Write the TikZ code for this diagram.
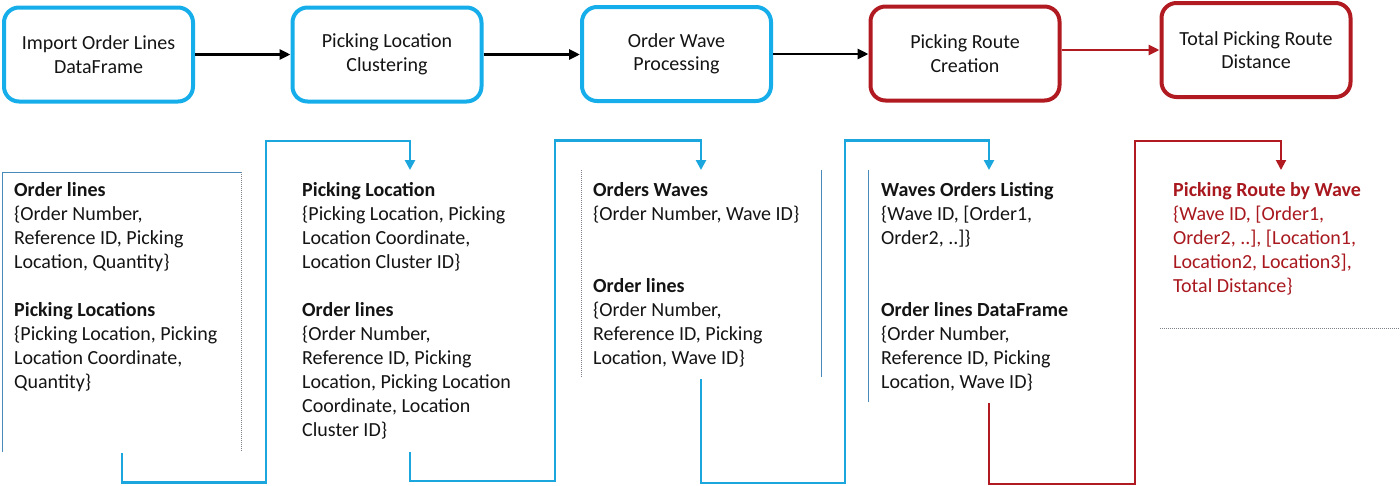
\documentclass[tikz,border=0pt]{standalone}
\usepackage{fontspec}
\setmainfont{Carlito}
\usetikzlibrary{arrows.meta}
\definecolor{boxblue}{RGB}{22,174,234}
\definecolor{connblue}{RGB}{28,166,222}
\definecolor{boxred}{RGB}{176,26,32}
\definecolor{txtred}{RGB}{168,24,30}
\definecolor{steel}{RGB}{74,138,186}
\definecolor{dotgray}{RGB}{125,128,142}
\definecolor{txt}{RGB}{20,20,20}
\begin{document}
\begin{tikzpicture}[x=1pt,y=-1pt,
  proc/.style={draw, line width=4pt, rounded corners=15pt, minimum width=189pt,
    minimum height=94pt, inner sep=0pt, align=center,
    font=\fontsize{20}{23.5}\selectfont, text=txt},
  bluebox/.style={proc, draw=boxblue},
  redbox/.style={proc, draw=boxred},
  flow/.style={line width=2.8pt, -{Triangle[length=11pt,width=10pt]}},
  conn/.style={line width=2.5pt, -{Triangle[length=10pt,width=10pt]}},
  panel/.style={anchor=north west, inner sep=0pt, align=left,
    font=\fontsize{20}{24}\selectfont, text=txt},
  frame/.style={line width=1pt, draw=steel},
  dotline/.style={line width=1pt, draw=dotgray, dash pattern=on 1pt off 1pt}]
\useasboundingbox (0,0) rectangle (1400,485);

% top process boxes
\node[bluebox] (b1) at (98.5,54.5) {Import Order Lines\\DataFrame};
\node[bluebox] (b2) at (387,54.5) {Picking Location\\Clustering};
\node[bluebox] (b3) at (676.5,54) {Order Wave\\Processing};
\node[redbox] (b4) at (965,53.5) {Picking Route\\Creation};
\node[redbox] (b5) at (1256,50) {Total Picking Route\\Distance};

\draw[flow, black] (b1.east) -- (b2.west);
\draw[flow, black] (b2.east) -- (b2.east -| b3.west);
\draw[flow, black] (b3.east) -- (b3.east -| b4.west);
\draw[flow, boxred] (b4.east |- b5.west) -- (b5.west);

% panel frames
\draw[frame] (2,452) -- (2,172) -- (241,172);
\draw[dotline] (241,172) -- (241,452);
\draw[dotline] (581,170) -- (581,378);
\draw[frame] (821,170) -- (821,377);
\draw[frame] (868,170) -- (868,402);
\draw[dotline] (1160,328) -- (1400,328);

% panel texts
\node[panel] (t1) at (14,179) {\strut\textbf{Order lines}\\
\{Order Number,\\
Reference ID, Picking\\
Location, Quantity\}\\[24pt]
\textbf{Picking Locations}\\
\{Picking Location, Picking\\
Location Coordinate,\\
Quantity\}};

\node[panel] (t2) at (302,179) {\strut\textbf{Picking Location}\\
\{Picking Location, Picking\\
Location Coordinate,\\
Location Cluster ID\}\\[24pt]
\textbf{Order lines}\\
\{Order Number,\\
Reference ID, Picking\\
Location, Picking Location\\
Coordinate, Location\\
Cluster ID\}};

\node[panel] (t3) at (593,179) {\strut\textbf{Orders Waves}\\
\{Order Number, Wave ID\}\\[48pt]
\textbf{Order lines}\\
\{Order Number,\\
Reference ID, Picking\\
Location, Wave ID\}};

\node[panel] (t4) at (881,179) {\strut\textbf{Waves Orders Listing}\\
\{Wave ID, [Order1,\\
Order2, ..]\}\\[48pt]
\textbf{Order lines DataFrame}\\
\{Order Number,\\
Reference ID, Picking\\
Location, Wave ID\}};

\node[panel, text=txtred] (t5) at (1173,179) {\strut\textbf{Picking Route by Wave}\\
\{Wave ID, [Order1,\\
Order2, ..], [Location1,\\
Location2, Location3],\\
Total Distance\}};

% connector end points
\coordinate (o1) at (122,453);
\coordinate (i2) at (410,170);
\coordinate (o2) at (410,452);
\coordinate (i3) at (701,170);
\coordinate (o3) at (701,379);
\coordinate (i4) at (989,170);
\coordinate (o4) at (989,403);
\coordinate (i5) at (1281,170);

\draw[conn, connblue] (o1) -- (122,482.5) -- (266,482.5) -- (266,141) -- (410,141) -- (i2);
\draw[conn, connblue] (o2) -- (410,481) -- (555,481) -- (555,140.5) -- (701,140.5) -- (i3);
\draw[conn, connblue] (o3) -- (701,483) -- (845,483) -- (845,140.5) -- (989,140.5) -- (i4);
\draw[conn, boxred, line width=2pt] (o4) -- (989,483.5) -- (1135,483.5) -- (1135,140.5) -- (1281,140.5) -- (i5);
\end{tikzpicture}
\end{document}
